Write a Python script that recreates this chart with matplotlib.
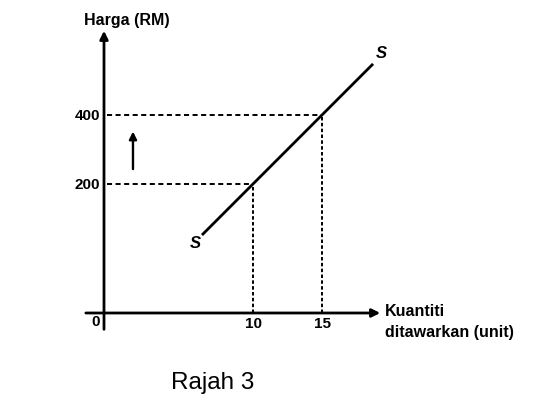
import matplotlib.pyplot as plt
import numpy as np

plt.rcParams['font.family'] = ['Liberation Sans', 'DejaVu Sans']

# supply curve S: P = 40*Q - 200 (schematic)
q_line = [6.3, 18.7]
p_line = [40 * q - 200 for q in q_line]
q_points = [10, 15]
p_points = [200, 400]
x_ticks = [10, 15]
y_ticks = [200, 400]

fig = plt.figure(figsize=(5.58, 4.09), dpi=100)
# axes box spans from the origin (104, 313) px to the arrow tips (383, 28) px
ax = fig.add_axes([104 / 558, (409 - 313) / 409, (383 - 104) / 558, (313 - 28) / 409])
for sp in ax.spines.values():
    sp.set_visible(False)

# axes with arrows
ax.annotate('', xy=(1.0, 0), xytext=(-0.075, 0), xycoords='axes fraction',
            arrowprops=dict(arrowstyle='-|>', lw=2.0, color='black', mutation_scale=12))
ax.annotate('', xy=(0, 1.0), xytext=(0, -0.067), xycoords='axes fraction',
            arrowprops=dict(arrowstyle='-|>', lw=2.0, color='black', mutation_scale=12))

# S curve
ax.plot(q_line, p_line, color='black', lw=2.0, solid_capstyle='butt')
ax.text(q_line[0] - 0.5, p_line[0] - 25, 'S', fontsize=12, fontweight='bold',
        style='italic', ha='center', va='center')
ax.text(q_line[1] + 0.6, p_line[1] + 30, 'S', fontsize=12, fontweight='bold',
        style='italic', ha='center', va='center')

# dashed guide lines
for q, p in zip(q_points, p_points):
    ax.plot([-0.55, q], [p, p], color='black', lw=1.4, dashes=(2.6, 1.8))
    ax.plot([q, q], [-174, p], color='black', lw=1.4, dashes=(1.8, 1.2))

# arrow showing price rise
ax.annotate('', xy=(1.3, 360), xytext=(1.3, 235), xycoords='data',
            arrowprops=dict(arrowstyle='-|>', lw=1.7, color='black', mutation_scale=11))

ax.set_xticks(x_ticks)
ax.set_yticks(y_ticks)
ax.set_xticklabels([str(v) for v in x_ticks], fontsize=11, fontweight='bold')
ax.set_yticklabels([str(v) for v in y_ticks], fontsize=11, fontweight='bold')
ax.tick_params(length=0, pad=3)
ax.set_xlim(-0.8, 19.42)
ax.set_ylim(-174, 652)

fig.text(96 / 558, 1 - 322 / 409, '0', fontsize=11, fontweight='bold',
         ha='center', va='center')

fig.text(127 / 558, 1 - 20 / 409, 'Harga (RM)', fontsize=11.5, fontweight='bold',
         ha='center', va='center')
fig.text(385 / 558, 1 - 312 / 409, 'Kuantiti', fontsize=11.5, fontweight='bold',
         ha='left', va='center')
fig.text(385 / 558, 1 - 333 / 409, 'ditawarkan (unit)', fontsize=11.5, fontweight='bold',
         ha='left', va='center')
fig.text(213 / 558, 1 - 383 / 409, 'Rajah 3', fontsize=17.5, ha='center', va='center')

fig.savefig('out.png', dpi=100)
